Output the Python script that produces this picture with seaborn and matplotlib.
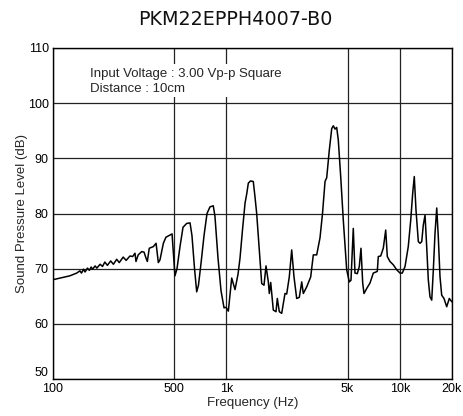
import matplotlib
matplotlib.use("Agg")
import matplotlib.pyplot as plt
from matplotlib.patches import Rectangle
import seaborn as sns
import pandas as pd

freq_hz = [
    100, 110, 125, 137, 143, 146, 150, 153, 158, 162, 166, 169, 175, 179, 187, 193,
    199, 206, 215, 223, 233, 241, 254, 264, 278, 288, 297, 301, 310, 325, 335, 344,
    350, 359, 379, 393, 405, 414, 433, 448, 473, 486, 505, 519, 540, 562, 590, 617,
    633, 655, 674, 690, 714, 743, 773, 804, 840, 859, 894, 931, 969, 995, 1026, 1073,
    1121, 1167, 1198, 1238, 1281, 1309, 1338, 1377, 1429, 1462, 1495, 1542, 1598, 1648,
    1692, 1745, 1768, 1801, 1864, 1932, 1966, 2019, 2084, 2177, 2227, 2305, 2380, 2454,
    2543, 2633, 2719, 2777, 2905, 3063, 3171, 3317, 3466, 3583, 3705, 3789, 3922, 4050,
    4137, 4231, 4326, 4419, 4562, 4722, 4940, 5114, 5230, 5392, 5515, 5687, 5840, 5973,
    6110, 6215, 6443, 6731, 7033, 7416, 7516, 7760, 8031, 8293, 8470, 8779, 9173, 9597,
    10030, 10340, 10720, 11190, 11560, 11870, 12120, 12400, 12790, 13080, 13380, 13660,
    13980, 14290, 14600, 14930, 15280, 15610, 15960, 16330, 16670, 17050, 17440, 17980,
    18640, 19300, 19930,
]
spl_db = [
    68.0, 68.3, 68.7, 69.2, 69.6, 69.2, 69.9, 69.4, 70.1, 69.7, 70.3, 69.9, 70.5, 70.1, 70.8, 70.4,
    71.2, 70.6, 71.4, 70.8, 71.7, 71.1, 72.1, 71.5, 72.3, 72.2, 72.8, 71.3, 72.5, 73.1, 73.0, 71.9,
    71.3, 73.7, 74.0, 74.6, 71.1, 71.6, 74.6, 75.7, 76.1, 76.3, 68.7, 70.0, 74.0, 77.5, 78.2, 78.3,
    76.0, 70.0, 65.8, 67.0, 71.0, 76.0, 80.0, 81.2, 81.4, 79.5, 72.0, 66.0, 62.9, 63.0, 62.3, 68.3,
    66.2, 69.0, 71.9, 77.0, 81.9, 83.5, 85.5, 85.9, 85.8, 83.0, 80.0, 74.0, 67.3, 67.0,
    70.5, 67.6, 65.5, 67.5, 62.5, 62.2, 64.6, 62.2, 61.9, 65.5, 65.4, 68.5, 73.4, 68.5,
    64.6, 64.8, 67.6, 65.5, 66.7, 68.5, 72.5, 72.5, 75.6, 80.0, 85.8, 86.5, 91.5, 95.4,
    95.9, 95.3, 95.6, 93.3, 86.7, 78.8, 69.8, 67.6, 67.9, 77.3, 69.2, 69.1, 70.4, 73.7,
    67.4, 65.5, 66.4, 67.4, 69.2, 69.5, 72.2, 72.3, 73.7, 77.0, 72.2, 71.3, 70.7, 69.8,
    69.2, 69.2, 70.4, 74.0, 78.8, 83.7, 86.7, 80.6, 74.9, 74.6, 74.9, 77.9,
    79.7, 74.0, 68.0, 64.9, 64.3, 69.8, 76.4, 81.0, 75.8, 68.6, 65.2, 64.6,
    63.1, 64.6, 64.0,
]
x_ticks = [100, 500, 1000, 5000, 10000, 20000]
x_tick_labels = ["100", "500", "1k", "5k", "10k", "20k"]
y_ticks = [50, 60, 70, 80, 90, 100, 110]

title = "PKM22EPPH4007-B0"
note_lines = ["Input Voltage : 3.00 Vp-p Square", "Distance : 10cm"]

df = pd.DataFrame({"freq": freq_hz, "spl": spl_db})

sns.set_style("white")
plt.rcParams["font.family"] = ["Liberation Sans", "DejaVu Sans"]

W, H = 464, 416
fig = plt.figure(figsize=(W / 100, H / 100), dpi=100)
L, R, T, B = 53, 452, 48, 379
ax = fig.add_axes([L / W, (H - B) / H, (R - L) / W, (B - T) / H])


def ax_x(px):
    return (px - L) / (R - L)


def ax_y(py):
    return (B - py) / (B - T)


ax.set_xscale("log")
ax.set_xlim(100, 20000)
ax.set_ylim(50, 110)

ax.set_xticks(x_ticks)
ax.set_xticklabels(x_tick_labels)
ax.xaxis.set_minor_locator(matplotlib.ticker.NullLocator())
ax.set_yticks(y_ticks)
ax.tick_params(axis="both", length=0, labelsize=9, colors="black")
ax.tick_params(axis="x", pad=3)
ax.tick_params(axis="y", pad=3)
# lowest y label sits just above the corner, as in the reference
ax.get_yticklabels()[0].set_va("bottom")

for xv in x_ticks:
    ax.axvline(xv, color="#222222", lw=0.9, zorder=1)
for yv in y_ticks:
    ax.axhline(yv, color="#222222", lw=0.9, zorder=1)

for s in ax.spines.values():
    s.set_color("black")
    s.set_linewidth(1.0)

sns.lineplot(data=df, x="freq", y="spl", ax=ax, color="black", lw=1.1,
             estimator=None, sort=False, zorder=3)

ax.set_xlabel("Frequency (Hz)", fontsize=9.5, labelpad=1)
ax.set_ylabel("Sound Pressure Level (dB)", fontsize=9.5, labelpad=0)

# white box behind the note (hides the grid lines)
ax.add_patch(Rectangle((ax_x(86), ax_y(97)), ax_x(290) - ax_x(86), ax_y(64) - ax_y(97),
                       transform=ax.transAxes, facecolor="white", edgecolor="none",
                       zorder=4))
ax.text(ax_x(90), ax_y(74), note_lines[0], transform=ax.transAxes,
        fontsize=9.5, va="center", ha="left", zorder=5)
ax.text(ax_x(90), ax_y(89.5), note_lines[1], transform=ax.transAxes,
        fontsize=9.5, va="center", ha="left", zorder=5)

fig.text(235 / W, 1 - 19.5 / H, title, ha="center", va="center",
         fontsize=13.8, family=["DejaVu Sans"], color="#111111")

fig.savefig("out.png", dpi=100)
